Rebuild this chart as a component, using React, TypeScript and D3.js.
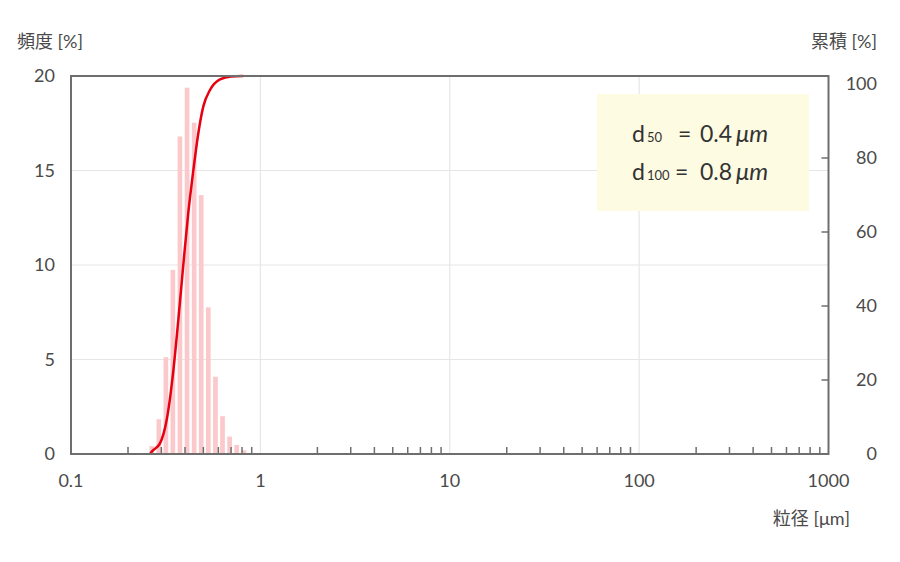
import React from "react";
import * as d3 from "d3";

// particle size bins [µm] and frequency [%]
const binSizes = [0.267, 0.291, 0.317, 0.345, 0.376, 0.41, 0.447, 0.487, 0.531, 0.579, 0.631, 0.688, 0.75, 0.818];
const binFreq = [0.42, 1.84, 5.12, 9.74, 16.8, 19.38, 17.53, 13.7, 7.76, 4.09, 2.0, 0.92, 0.48, 0.2];

// cumulative curve [µm] -> [%]
const cumSizes = [0.262, 0.2667, 0.295, 0.32, 0.347, 0.368, 0.3917, 0.416, 0.4425, 0.47, 0.4994, 0.542, 0.612, 0.7, 0.812];
const cumValues = [0, 0.6, 2.8, 9, 22, 35, 50, 63.7, 75, 84.8, 91.9, 96.3, 99.1, 99.9, 100];

const xMajor = [0.1, 1, 10, 100, 1000];
const xMajorLabels = ["0.1", "1", "10", "100", "1000"];
const leftTicks = [0, 5, 10, 15, 20];
const rightTicks = [0, 20, 40, 60, 80, 100];

const W = 900;
const H = 562;
const left = 71;
const right = 828.5;
const top = 76;
const bottom = 454;

const font = "Lato, 'Noto Sans CJK JP', sans-serif";
const axisColor = "#6e6e6e";
const gridColor = "#e6e6e6";
const textColor = "#4a4a4a";

export default function App() {
    const x = d3.scaleLog().domain([0.1, 1000]).range([left, right]);
    const y = d3.scaleLinear().domain([0, 20]).range([bottom, top]);
    const yCum = d3.scaleLinear().domain([0, 100]).range([bottom, top]);
    const yRight = d3.scaleLinear().domain([0, 100]).range([bottom, 84]);

    const minorTicks: number[] = [];
    [0.1, 1, 10, 100].forEach((d) => {
        for (let k = 2; k <= 9; k++) minorTicks.push(d * k);
    });

    const barW = (x(binSizes[1]) - x(binSizes[0])) * 0.66;

    const cumLine = d3
        .line<number>()
        .x((d, i) => x(cumSizes[i]))
        .y((d) => yCum(d))
        .curve(d3.curveMonotoneX);

    return (
        <svg
            width={W}
            height={H}
            style={{ position: "absolute", left: 0, top: 0, background: "#fff" }}
            fontFamily={font}
        >
            {/* grid */}
            {[5, 10, 15].map((d) => (
                <line key={`h${d}`} x1={left} x2={right} y1={y(d)} y2={y(d)} stroke={gridColor} strokeWidth={1.2} />
            ))}
            {[1, 10, 100].map((d) => (
                <line key={`v${d}`} x1={x(d)} x2={x(d)} y1={top} y2={bottom} stroke={gridColor} strokeWidth={1.2} />
            ))}

            {/* frequency bars */}
            {binSizes.map((s, i) => (
                <rect
                    key={`b${i}`}
                    x={x(s) - barW / 2}
                    y={y(binFreq[i])}
                    width={barW}
                    height={y(0) - y(binFreq[i])}
                    fill="#fbc8cb"
                />
            ))}

            {/* note box */}
            <rect x={597} y={94} width={212} height={117} fill="#fefbe3" />
            <g fill="#333" fontSize={23}>
                <text x={632} y={142}>d</text>
                <text x={647} y={142} fontSize={13}>50</text>
                <text x={678} y={142}>=</text>
                <text x={700} y={142}>0.4</text>
                <text x={736} y={142} fontStyle="italic" fontSize={24}>μm</text>
                <text x={632} y={180}>d</text>
                <text x={647} y={180} fontSize={13}>100</text>
                <text x={675} y={180}>=</text>
                <text x={700} y={180}>0.8</text>
                <text x={736} y={180} fontStyle="italic" fontSize={24}>μm</text>
            </g>

            {/* cumulative curve */}
            <path d={cumLine(cumValues) || ""} fill="none" stroke="#e60012" strokeWidth={2.5} />

            {/* minor ticks */}
            {minorTicks.map((d) => (
                <line key={`m${d}`} x1={x(d)} x2={x(d)} y1={bottom} y2={bottom - 7} stroke={axisColor} strokeWidth={1.5} />
            ))}
            {rightTicks.slice(1, -1).map((d) => (
                <line key={`r${d}`} x1={right} x2={right - 7} y1={yRight(d)} y2={yRight(d)} stroke={axisColor} strokeWidth={1.5} />
            ))}

            {/* frame */}
            <rect x={left} y={top} width={right - left} height={bottom - top} fill="none" stroke={axisColor} strokeWidth={2} />

            {/* tick labels */}
            <g fill={textColor} fontSize={18}>
                {leftTicks.map((d) => (
                    <text key={`lt${d}`} x={55} y={y(d)} dy="0.35em" textAnchor="end">
                        {d}
                    </text>
                ))}
                {rightTicks.map((d) => (
                    <text key={`rt${d}`} x={877} y={yRight(d)} dy="0.35em" textAnchor="end">
                        {d}
                    </text>
                ))}
                {xMajor.map((d, i) => (
                    <text key={`xt${d}`} x={x(d)} y={487} textAnchor="middle">
                        {xMajorLabels[i]}
                    </text>
                ))}
            </g>

            {/* axis titles */}
            <g fill={textColor} fontSize={18}>
                <text x={17} y={48}>頻度 [%]</text>
                <text x={877} y={48} textAnchor="end">累積 [%]</text>
                <text x={850} y={525} textAnchor="end">粒径 [μm]</text>
            </g>
        </svg>
    );
}
